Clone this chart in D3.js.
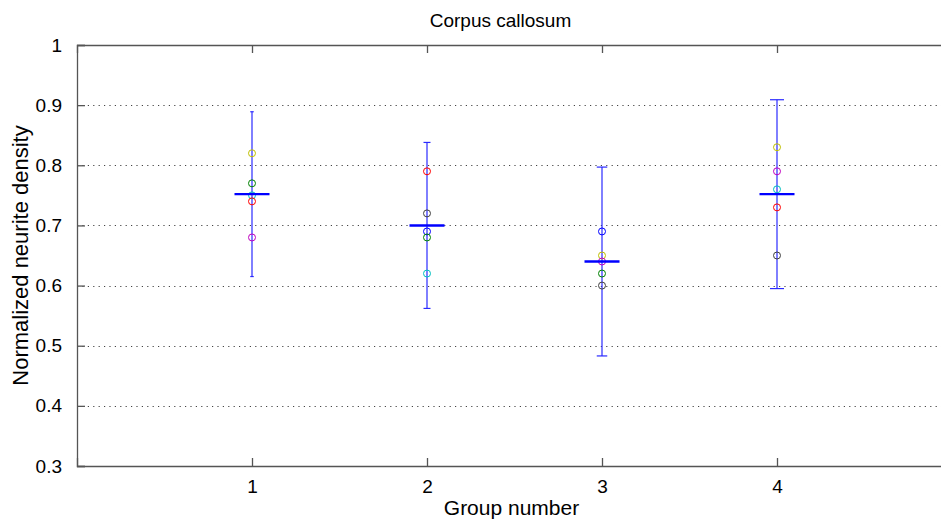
<!DOCTYPE html>
<html>
<head>
<meta charset="utf-8">
<script src="https://cdn.jsdelivr.net/npm/d3@7"></script>
<style>
    html, body { margin: 0; padding: 0; background: #fff; }
    svg text { font-family: "Liberation Sans", Arial, sans-serif; fill: #000; }
</style>
</head>
<body>
<div id="chart"></div>
<script>
/*
 * Chart data.
 */
var groups        = [1, 2, 3, 4];
var groupMeans    = [0.752, 0.700, 0.640, 0.752];
var groupErrors   = [0.137, 0.138, 0.157, 0.157];
var subjects      = ['a', 'b', 'c', 'd', 'e', 'f', 'g'];
var pointGroups   = [1, 1, 1, 1, 1, 2, 2, 2, 2, 2, 3, 3, 3, 3, 3, 4, 4, 4, 4, 4];
var pointSubjects = ['f', 'b', 'd', 'c', 'e', 'c', 'g', 'a', 'b', 'd', 'a', 'f', 'e', 'b', 'g', 'f', 'e', 'd', 'c', 'g'];
var pointValues   = [0.82, 0.77, 0.75, 0.74, 0.68, 0.79, 0.72, 0.69, 0.68, 0.62, 0.69, 0.65, 0.64, 0.62, 0.60, 0.83, 0.79, 0.76, 0.73, 0.65];
var yTicks        = [0.3, 0.4, 0.5, 0.6, 0.7, 0.8, 0.9, 1];


/**
 * Group scatter chart with mean and error bars.
 * @public
 * @class
 */
function GroupChart() {
    /**
     * Outer dimensions.
     * @private
     */
    this._width  = 941;
    this._height = 525;
    /**
     * Plot box.
     * @private
     */
    this._box = {left: 77, top: 45, bottom: 466, right: 952};

    this._xScale = d3.scaleLinear()
        .domain([0, 5])
        .range([this._box.left, this._box.right]);

    this._yScale = d3.scaleLinear()
        .domain([0.3, 1])
        .range([this._box.bottom, this._box.top]);

    this._colorScale = d3.scaleOrdinal()
        .domain(subjects)
        .range(['#0000ff', '#008000', '#ff0000', '#00bfbf', '#bf00bf', '#bfbf00', '#404040']);
}


/**
 * Render chart.
 * @public
 * @param {String} selection
 * @returns {GroupChart}
 */
GroupChart.prototype.renderTo = function(selection) {

    var self = this;
    var x = this._xScale, y = this._yScale, box = this._box;

    this._svg = d3.select(selection).append('svg')
        .attr('width', this._width)
        .attr('height', this._height);
    /*
     * Dotted horizontal grid.
     */
    this._svg.append('g')
        .selectAll('line')
        .data(yTicks.slice(1, -1))
        .enter().append('line')
        .attr('x1', box.left)
        .attr('x2', box.right)
        .attr('y1', d => Math.round(y(d)) + 0.5)
        .attr('y2', d => Math.round(y(d)) + 0.5)
        .attr('stroke', '#444')
        .attr('stroke-width', 1)
        .attr('stroke-dasharray', '1.2,4.2');
    /*
     * Axes, ticks pointing inward.
     */
    this._svg.append('g')
        .attr('transform', 'translate(0,' + box.bottom + ')')
        .call(d3.axisBottom(x).tickValues(groups).tickSize(-8).tickPadding(14).tickFormat(d3.format('d')))
        .call(g => g.selectAll('text').attr('font-size', 19));

    this._svg.append('g')
        .attr('transform', 'translate(0,' + box.top + ')')
        .call(d3.axisTop(x).tickValues(groups).tickSize(-8).tickFormat(''));

    this._svg.append('g')
        .attr('transform', 'translate(' + box.left + ',0)')
        .call(d3.axisLeft(y).tickValues(yTicks).tickSize(-8).tickPadding(15).tickFormat(d3.format('')))
        .call(g => g.selectAll('text').attr('font-size', 19));

    this._svg.selectAll('.domain, .tick line')
        .attr('stroke', '#555')
        .attr('stroke-width', 1.3);
    /*
     * Error bars.
     */
    var bars = this._svg.append('g')
        .selectAll('g')
        .data(groups)
        .enter().append('g')
        .attr('stroke', '#2a2aff')
        .attr('stroke-width', 1.2);

    bars.append('line')
        .attr('x1', d => x(d))
        .attr('x2', d => x(d))
        .attr('y1', (d, i) => y(groupMeans[i] + groupErrors[i]))
        .attr('y2', (d, i) => y(groupMeans[i] - groupErrors[i]));

    [1, -1].forEach(function(sign) {
        bars.append('line')
            .attr('x1', d => x(d - d * 0.01))
            .attr('x2', d => x(d + d * 0.01))
            .attr('y1', (d, i) => y(groupMeans[i] + sign * groupErrors[i]))
            .attr('y2', (d, i) => y(groupMeans[i] + sign * groupErrors[i]));
    });
    /*
     * Subject markers.
     */
    this._svg.append('g')
        .selectAll('circle')
        .data(pointValues)
        .enter().append('circle')
        .attr('cx', (d, i) => x(pointGroups[i]))
        .attr('cy', d => y(d))
        .attr('r', 3.5)
        .attr('fill', 'none')
        .attr('stroke', (d, i) => self._colorScale(pointSubjects[i]))
        .attr('stroke-width', 1);
    /*
     * Group means.
     */
    this._svg.append('g')
        .selectAll('line')
        .data(groups)
        .enter().append('line')
        .attr('x1', d => x(d - 0.1))
        .attr('x2', d => x(d + 0.1))
        .attr('y1', (d, i) => y(groupMeans[i]))
        .attr('y2', (d, i) => y(groupMeans[i]))
        .attr('stroke', '#0000ff')
        .attr('stroke-width', 2.4);
    /*
     * Title and axis labels.
     */
    this._svg.append('text')
        .attr('x', (box.left + box.right) / 2 - 14)
        .attr('y', 27)
        .attr('text-anchor', 'middle')
        .attr('font-size', 19)
        .text('Corpus callosum');

    this._svg.append('text')
        .attr('x', (box.left + box.right) / 2 - 3)
        .attr('y', 515)
        .attr('text-anchor', 'middle')
        .attr('font-size', 21)
        .text('Group number');

    this._svg.append('text')
        .attr('transform', 'translate(28,' + (box.top + box.bottom) / 2 + ') rotate(-90)')
        .attr('text-anchor', 'middle')
        .attr('font-size', 22)
        .text('Normalized neurite density');

    return this;
};


new GroupChart().renderTo('#chart');
</script>
</body>
</html>
